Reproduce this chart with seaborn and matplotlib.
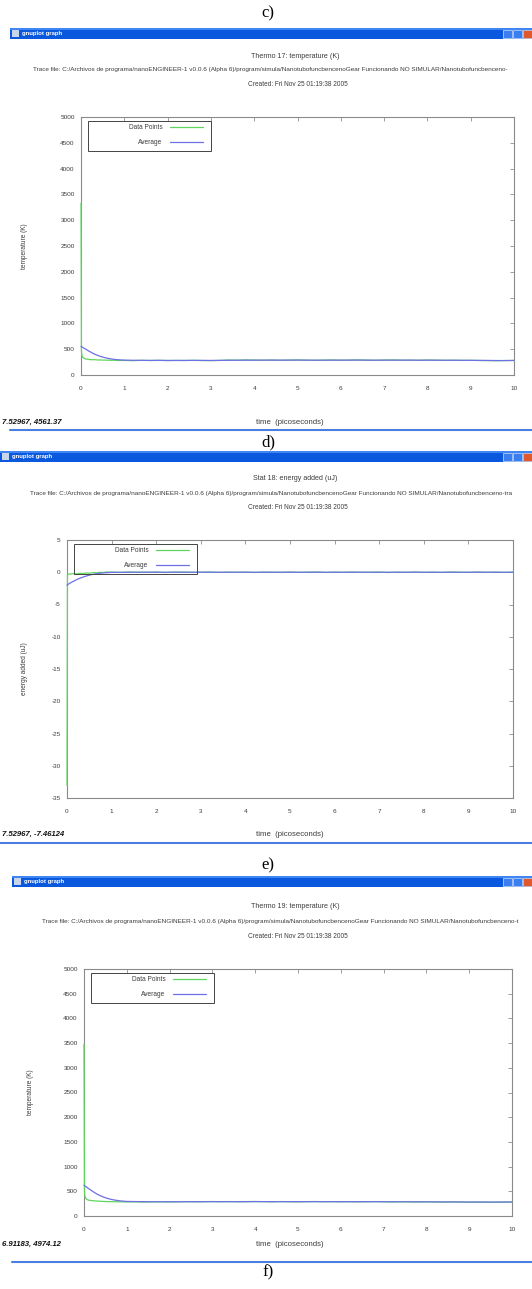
import matplotlib
matplotlib.use('Agg')
import matplotlib.pyplot as plt
from matplotlib.patches import Rectangle
from matplotlib.lines import Line2D
import seaborn as sns

W, H = 532, 1289

# time axis shared by the three traces (picoseconds)
time_ps = [0.0, 0.01, 0.02, 0.04, 0.06, 0.08, 0.1, 0.15, 0.2, 0.25, 0.3, 0.35,
           0.4, 0.45, 0.5, 0.55, 0.6, 0.65, 0.7, 0.75, 0.8, 0.85, 0.9, 0.95,
           1.0, 1.2, 1.4, 1.6, 1.8, 2.0, 2.2, 2.4, 2.6, 2.8, 3.0, 3.2, 3.4, 3.6,
           3.8, 4.0, 4.2, 4.4, 4.6, 4.8, 5.0, 5.2, 5.4, 5.6, 5.8, 6.0, 6.2, 6.4,
           6.6, 6.8, 7.0, 7.2, 7.4, 7.6, 7.8, 8.0, 8.2, 8.4, 8.6, 8.8, 9.0, 9.2,
           9.4, 9.6, 9.8, 10.0]

# c) Thermo 17 temperature (K)
thermo17_points = [3330, 470, 380, 345, 330, 320, 312, 305, 300, 296, 298, 294,
                   290, 293, 288, 290, 286, 288, 284, 286, 282, 284, 280, 282,
                   282, 278, 284, 280, 286, 279, 283, 281, 285, 280,
                   278, 283, 290, 287, 292, 288, 286, 290, 285, 289,
                   291, 287, 284, 288, 290, 286, 289, 292, 287, 285,
                   289, 291, 286, 288, 284, 290, 287, 283, 286, 282,
                   285, 281, 279, 276, 280, 283]
thermo17_avg = [555, 550, 545, 535, 525, 515, 505, 480, 455, 432, 410, 392,
                375, 360, 348, 337, 327, 318, 311, 305, 300, 296, 293, 290,
                288, 285, 284, 283, 283, 282, 282, 282, 283, 283,
                282, 283, 285, 286, 287, 288, 288, 288, 288, 288,
                289, 288, 287, 287, 288, 288, 288, 289, 288, 287,
                288, 288, 288, 288, 287, 287, 287, 286, 286, 285,
                284, 283, 282, 280, 280, 281]

# d) Stat 18 energy added (uJ)
stat18_points = [-33.0, -0.4, -0.3, -0.3, -0.25, -0.3, -0.25, -0.2, -0.25, -0.2,
                 -0.15, -0.2, -0.15, -0.1, -0.15, -0.1, -0.05, -0.1, -0.05, 0.0,
                 -0.05, 0.0, 0.05, 0.0,
                 0.02, -0.03, 0.04, 0.0, -0.02, 0.03, -0.04, 0.01, 0.03, -0.02,
                 0.0, 0.04, -0.03, 0.02, -0.01, 0.03, -0.04, 0.02, 0.0, -0.03,
                 0.04, -0.02, 0.01, 0.03, -0.03, 0.02, -0.01, 0.04, -0.02, 0.0,
                 0.03, -0.04, 0.02, -0.01, 0.03, -0.02, 0.01, -0.03, 0.04, 0.0,
                 -0.02, 0.03, -0.01, 0.02, -0.03, 0.01]
stat18_avg = [-2.0, -1.95, -1.9, -1.8, -1.72, -1.64, -1.56, -1.38, -1.2, -1.04,
              -0.9, -0.77, -0.65, -0.55, -0.45, -0.37, -0.3, -0.24, -0.19, -0.15,
              -0.11, -0.08, -0.06, -0.04,
              -0.02, -0.01, 0.0, 0.0, 0.01, 0.0, 0.0, 0.01, 0.0, 0.0,
              0.01, 0.0, 0.0, 0.0, 0.01, 0.0, 0.0, 0.0, 0.0, 0.01,
              0.0, 0.0, 0.0, 0.01, 0.0, 0.0, 0.0, 0.0, 0.01, 0.0,
              0.0, 0.0, 0.0, 0.0, 0.01, 0.0, 0.0, 0.0, 0.0, 0.0,
              0.0, 0.01, 0.0, 0.0, 0.0, 0.0]

# e) Thermo 19 temperature (K)
thermo19_points = [3480, 520, 400, 360, 340, 330, 322, 315, 310, 305, 302, 300,
                   297, 295, 293, 292, 290, 291, 288, 289, 287, 288, 286, 285,
                   284, 287, 282, 286, 289, 285, 288, 291, 287, 290,
                   293, 289, 292, 288, 291, 294, 290, 287, 292, 289,
                   286, 290, 293, 288, 291, 287, 290, 286, 289, 292,
                   288, 285, 289, 286, 283, 287, 284, 281, 285, 282,
                   279, 283, 280, 278, 282, 285]
thermo19_avg = [625, 618, 610, 598, 585, 572, 560, 530, 500, 472, 447, 424,
                404, 386, 370, 356, 344, 334, 325, 318, 312, 306, 302, 298,
                295, 292, 290, 289, 288, 288, 288, 289, 289, 289,
                290, 290, 290, 290, 290, 291, 291, 290, 290, 290,
                290, 290, 290, 290, 290, 289, 289, 289, 289, 289,
                289, 288, 288, 288, 287, 287, 286, 285, 285, 284,
                283, 283, 282, 282, 282, 283]

temp_ticks = [0, 500, 1000, 1500, 2000, 2500, 3000, 3500, 4000, 4500, 5000]
energy_ticks = [-35, -30, -25, -20, -15, -10, -5, 0, 5]
time_ticks = [0, 1, 2, 3, 4, 5, 6, 7, 8, 9, 10]

# the trace path runs off the right edge of each window; keep what is visible
trace_path = ('Trace file: C:/Archivos de programa/nanoENGINEER-1 v0.0.6 (Alpha 6)/program/simula/'
              'NanotubofuncbencenoGear Funcionando NO SIMULAR/')
created_text = 'Created: Fri Nov 25 01:19:38 2005'

GREEN = '#5ed65e'
BLUE = '#6e6ee6'
TXT = '#3c3c3c'

sns.set_style('white')
plt.rcParams['font.family'] = ['Liberation Sans', 'DejaVu Sans']
plt.rcParams['axes.unicode_minus'] = False

fig = plt.figure(figsize=(W / 100, H / 100), dpi=100)


def fx(x):
    return x / W


def fy(y):
    return 1 - y / H


panels = [
    dict(tag='c)', tag_y=13, win_x=10, bar=(28, 39), title='Thermo 17: temperature (K)',
         title_y=56, trace_x=33, trace_y=70, trace_end='Nanotubofuncbenceno-',
         created_y=84, box=(81, 514, 117, 375),
         points=thermo17_points, avg=thermo17_avg, ylim=(0, 5000), yticks=temp_ticks,
         ylabel='temperature (K)', ylabel_x=25, xlabel_y=422,
         status='7.52967, 4561.37', line_y=430),
    dict(tag='d)', tag_y=442, win_x=0, bar=(451, 462), title='Stat 18: energy added (uJ)',
         title_y=479, trace_x=30, trace_y=493, trace_end='Nanotubofuncbenceno-tra',
         created_y=507, box=(67, 513, 540, 798),
         points=stat18_points, avg=stat18_avg, ylim=(-35, 5), yticks=energy_ticks,
         ylabel='energy added (uJ)', ylabel_x=25, xlabel_y=834,
         status='7.52967, -7.46124', line_y=843),
    dict(tag='e)', tag_y=865, win_x=12, bar=(876, 887), title='Thermo 19: temperature (K)',
         title_y=907, trace_x=42, trace_y=922, trace_end='Nanotubofuncbenceno-t',
         created_y=936, box=(84, 512, 969, 1216),
         points=thermo19_points, avg=thermo19_avg, ylim=(0, 5000), yticks=temp_ticks,
         ylabel='temperature (K)', ylabel_x=30, xlabel_y=1244,
         status='6.91183, 4974.12', line_y=1262),
]


def draw_panel(p):
    # panel letter
    fig.text(fx(268), fy(p['tag_y']), p['tag'], family='Liberation Serif', fontsize=12,
             ha='center', va='center', color='black')

    # gnuplot window title bar
    x0 = p['win_x']
    top, bot = p['bar']
    fig.add_artist(Rectangle((fx(x0), fy(bot)), fx(W - x0), (bot - top) / H,
                             transform=fig.transFigure, facecolor='#0a58de', lw=0))
    fig.add_artist(Rectangle((fx(x0), fy(top + 1.5)), fx(W - x0), 1.5 / H,
                             transform=fig.transFigure, facecolor='#3f86f2', lw=0))
    fig.add_artist(Rectangle((fx(x0 + 2), fy(bot - 2)), fx(7), 7 / H,
                             transform=fig.transFigure, facecolor='#c9d6ea', lw=0))
    fig.text(fx(x0 + 12), fy((top + bot) / 2), 'gnuplot graph', fontsize=4.3,
             fontweight='bold', color='white', va='center')
    for bx, col in [(503, '#3b7ef0'), (513, '#3b7ef0'), (523, '#e0582d')]:
        fig.add_artist(Rectangle((fx(bx), fy(bot - 1.5)), fx(9), (bot - top - 3) / H,
                                 transform=fig.transFigure, facecolor=col,
                                 edgecolor='white', lw=0.4))

    # header lines
    fig.text(fx(295), fy(p['title_y']), p['title'], fontsize=5.1, color=TXT,
             ha='center', va='center')
    fig.text(fx(p['trace_x']), fy(p['trace_y']), trace_path + p['trace_end'],
             fontsize=4.6, color=TXT, ha='left', va='center')
    fig.text(fx(298), fy(p['created_y']), created_text, fontsize=4.7, color=TXT,
             ha='center', va='center')

    # plot area
    l, r, t, b = p['box']
    ax = fig.add_axes([fx(l), fy(b), (r - l) / W, (b - t) / H])
    sns.lineplot(x=time_ps, y=p['points'], ax=ax, color=GREEN, lw=0.9,
                 label='Data Points', zorder=3, clip_on=False)
    sns.lineplot(x=time_ps, y=p['avg'], ax=ax, color=BLUE, lw=0.9,
                 label='Average', zorder=3, clip_on=False)
    ax.set_xlim(0, 10)
    ax.set_ylim(*p['ylim'])
    ax.set_xticks(time_ticks)
    ax.set_yticks(p['yticks'])
    ax.set_xlabel('')
    ax.set_ylabel('')
    ax.tick_params(direction='in', top=True, right=True, length=3, width=0.5,
                   colors='#777777', labelsize=4.6, labelcolor=TXT)
    ax.tick_params(axis='x', pad=8)
    ax.tick_params(axis='y', pad=4.5)
    for s in ax.spines.values():
        s.set_color('#8a8a8a')
        s.set_linewidth(0.8)

    # key box, drawn the way gnuplot does it (text then sample)
    fig.add_artist(Rectangle((fx(l + 7), fy(t + 34)), fx(123), 30 / H,
                             transform=fig.transFigure, facecolor='none',
                             edgecolor='#444444', lw=0.7))
    leg = ax.legend(loc='upper right', bbox_to_anchor=(fx(l + 122), fy(t + 7)),
                    bbox_transform=fig.transFigure, markerfirst=False, frameon=False,
                    fontsize=4.7, handlelength=5.0, handletextpad=1.2,
                    labelspacing=1.3, borderpad=0, borderaxespad=0)
    for txt in leg.get_texts():
        txt.set_color(TXT)

    # axis titles
    fig.text(fx(p['ylabel_x']), fy((t + b) / 2), p['ylabel'], fontsize=4.7, color=TXT,
             rotation=90, ha='center', va='center')
    fig.text(fx(290), fy(p['xlabel_y']), 'time  (picoseconds)', fontsize=5.6, color=TXT,
             ha='center', va='center')

    # status bar readout and bottom border
    fig.text(fx(2), fy(p['xlabel_y']), p['status'], fontsize=5.6, fontstyle='italic',
             fontweight='bold', color='#111111', va='center')
    fig.add_artist(Line2D([fx(x0), 1], [fy(p['line_y']), fy(p['line_y'])],
                          color='#4a7ee0', lw=1.5))


for p in panels:
    draw_panel(p)

fig.text(fx(268), fy(1272), 'f)', family='Liberation Serif', fontsize=12,
         ha='center', va='center', color='black')

fig.savefig('out.png', dpi=100)
